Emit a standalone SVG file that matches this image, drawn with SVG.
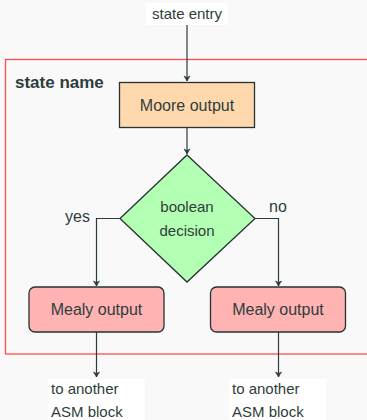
<svg xmlns="http://www.w3.org/2000/svg" width="367" height="420" viewBox="0 0 367 420">
  <defs>
    <marker id="arrow" markerWidth="8" markerHeight="8" refX="6" refY="4" orient="auto" markerUnits="userSpaceOnUse">
      <path d="M1,1 L6,4 L1,7 L2.5,4 Z" fill="#2b3a3a" stroke="#2b3a3a" stroke-width="0.6" stroke-linejoin="round"/>
    </marker>
  </defs>
  <style>
    text { font-family: "Liberation Sans", Arial, sans-serif; fill: #2f3d3d; }
    .lbl { font-size: 16px; }
    .small { font-size: 15px; }
    .node { stroke: #263333; stroke-width: 1.3; }
    .wire { fill: none; stroke: #2b3a3a; stroke-width: 1.2; }
    .tag { fill: #ffffff; }
  </style>
  <rect x="0" y="0" width="367" height="420" fill="#f9f9f9"/>

  <!-- state frame -->
  <g id="state-frame">
    <rect x="5.5" y="59.5" width="380" height="294.5" fill="none" stroke="#ff4d4d" stroke-width="1.3"/>
    <text x="15" y="88" font-size="17" font-weight="bold">state name</text>
  </g>

  <!-- connectors -->
  <g id="connectors">
    <line class="wire" x1="187" y1="25" x2="187" y2="81" marker-end="url(#arrow)"/>
    <line class="wire" x1="187" y1="127" x2="187" y2="154" marker-end="url(#arrow)"/>
    <polyline class="wire" points="120,218.5 96.5,218.5 96.5,286" marker-end="url(#arrow)"/>
    <polyline class="wire" points="255,218.5 278.5,218.5 278.5,286" marker-end="url(#arrow)"/>
    <line class="wire" x1="96.5" y1="332" x2="96.5" y2="377" marker-end="url(#arrow)"/>
    <line class="wire" x1="278.5" y1="332" x2="278.5" y2="377" marker-end="url(#arrow)"/>
    <text class="lbl" x="90" y="222" text-anchor="end">yes</text>
    <text class="lbl" x="269" y="212">no</text>
  </g>

  <g id="entry">
    <rect class="tag" x="146" y="3" width="82" height="22"/>
    <text class="small" x="187" y="19" text-anchor="middle">state entry</text>
  </g>

  <g id="moore">
    <rect class="node" x="119.5" y="82.5" width="135" height="45" fill="#ffd9ad"/>
    <text class="lbl" x="187" y="110.5" text-anchor="middle">Moore output</text>
  </g>

  <g id="decision">
    <polygon class="node" points="187,155 255,218.5 187,282 120,218.5" fill="#b3ffb3"/>
    <text class="small" x="187" y="212" text-anchor="middle">boolean</text>
    <text class="small" x="187" y="236" text-anchor="middle">decision</text>
  </g>

  <g id="mealy-yes">
    <rect class="node" x="29" y="287" width="135" height="45" rx="6" fill="#ffb3b3"/>
    <text class="lbl" x="96.5" y="314.5" text-anchor="middle">Mealy output</text>
  </g>

  <g id="mealy-no">
    <rect class="node" x="210.5" y="287" width="135" height="45" rx="6" fill="#ffb3b3"/>
    <text class="lbl" x="278" y="314.5" text-anchor="middle">Mealy output</text>
  </g>

  <g id="exit-yes">
    <rect class="tag" x="48" y="379" width="97" height="41"/>
    <text class="small" x="51" y="394">to another</text>
    <text class="small" x="51" y="417">ASM block</text>
  </g>

  <g id="exit-no">
    <rect class="tag" x="229" y="379" width="97" height="41"/>
    <text class="small" x="232" y="394">to another</text>
    <text class="small" x="232" y="417">ASM block</text>
  </g>
</svg>
